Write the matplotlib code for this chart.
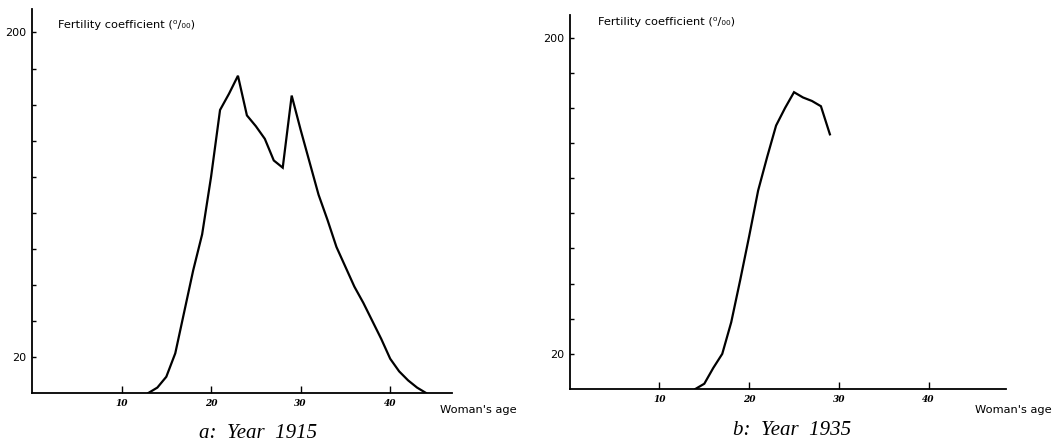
import matplotlib.pyplot as plt

# fertility coefficient per thousand, by woman's age
ages_1915 = [13, 14, 15, 16, 17, 18, 19, 20, 21, 22, 23, 24, 25, 26, 27, 28,
             29, 30, 31, 32, 33, 34, 35, 36, 37, 38, 39, 40, 41, 42, 43, 44]
fert_1915 = [0, 3, 9, 22, 45, 68, 88, 120, 157, 166, 176, 154, 148, 141, 129, 125,
             165, 146, 128, 110, 96, 81, 70, 59, 50, 40, 30, 19, 12, 7, 3, 0]

ages_1935 = [14, 15, 16, 17, 18, 19, 20, 21, 22, 23, 24, 25, 26, 27, 28, 29]
fert_1935 = [0, 3, 12, 20, 38, 62, 87, 113, 132, 150, 160, 169, 166, 164, 161, 145]

x_ticks = [10, 20, 30, 40]
y_ticks = [20, 40, 60, 80, 100, 120, 140, 160, 180, 200]
y_labels = ['20', '', '', '', '', '', '', '', '', '200']

W, H = 1059, 448
fig = plt.figure(figsize=(W / 100, H / 100), dpi=100)
ax1 = fig.add_axes([0.0302, 0.1228, 0.3966, 0.857])
ax2 = fig.add_axes([0.538, 0.1317, 0.4117, 0.835])

# axes, data, caption, x max, ylabel pos, "Woman's age" right edge, caption centre (pixels)
panels = [(ax1, ages_1915, fert_1915, 'a:  Year  1915', 46.9, (58, 25), (517, 410), (258, 433)),
          (ax2, ages_1935, fert_1935, 'b:  Year  1935', 48.6, (598, 22), (1052, 410), (792, 430))]

for ax, ages, vals, title, xmax, ylab, xlab, cap in panels:
    ax.plot(ages, vals, color='black', linewidth=1.6, solid_joinstyle='miter')
    ax.set_xlim(0, xmax)
    ax.set_ylim(0, 213)
    ax.spines['top'].set_visible(False)
    ax.spines['right'].set_visible(False)
    ax.spines['left'].set_linewidth(1.3)
    ax.spines['bottom'].set_linewidth(1.3)
    ax.set_xticks(x_ticks)
    ax.set_xticklabels([str(t) for t in x_ticks], fontsize=6.5, fontweight='bold',
                       fontstyle='italic', family='DejaVu Serif')
    ax.set_yticks(y_ticks)
    ax.set_yticklabels(y_labels, fontsize=8)
    ax.tick_params(axis='x', direction='in', length=5, width=1, pad=4)
    ax.tick_params(axis='y', direction='in', length=3, width=1, pad=4)
    fig.text(ylab[0] / W, 1 - ylab[1] / H, 'Fertility coefficient (\u2070/\u2080\u2080)',
             fontsize=8.2, va='center', ha='left', family='DejaVu Sans')
    fig.text(xlab[0] / W, 1 - xlab[1] / H, "Woman's age", fontsize=8.2,
             va='center', ha='right', family='DejaVu Sans')
    fig.text(cap[0] / W, 1 - cap[1] / H, title, fontsize=15,
             va='center', ha='center', fontstyle='italic', family='Liberation Serif')
    ax.set_facecolor('none')

fig.savefig('out.png', dpi=100)
